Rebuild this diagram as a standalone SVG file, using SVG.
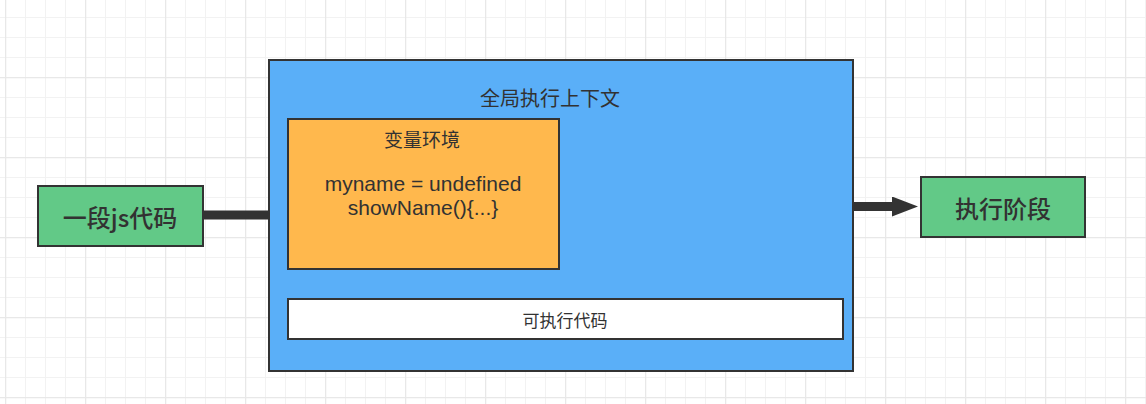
<svg xmlns="http://www.w3.org/2000/svg" width="1146" height="404" viewBox="0 0 1146 404">
  <defs>
    <pattern id="grid" patternUnits="userSpaceOnUse" x="5" y="-3" width="80" height="80">
      <rect width="80" height="80" fill="#ffffff"/>
      <path d="M20.5 0V80M40.5 0V80M60.5 0V80M0 20.5H80M0 40.5H80M0 60.5H80" stroke="#f2f2f2" stroke-width="1" fill="none"/>
      <path d="M0.5 0V80M0 0.5H80" stroke="#e8e8e8" stroke-width="1.5" fill="none"/>
    </pattern>
    <marker id="arrow" viewBox="0 0 26 20" refX="0" refY="10" markerWidth="26" markerHeight="20" markerUnits="userSpaceOnUse" orient="auto">
      <path d="M0 0L26 10L0 20Z" fill="#333333"/>
    </marker>
  </defs>
  <style>
    .box { stroke: #333333; stroke-width: 2; }
    .green { fill: #62c987; }
    .blue { fill: #5aaff8; }
    .orange { fill: #ffb84d; }
    .white { fill: #ffffff; }
    .cjk { font-family: "Noto Sans CJK SC", "Liberation Sans", sans-serif; fill: #323232; text-anchor: middle; dominant-baseline: central; }
    .code { font-family: "Liberation Sans", "Noto Sans CJK SC", sans-serif; fill: #323232; text-anchor: middle; dominant-baseline: central; font-size: 21px; }
    .conn { stroke: #333333; fill: none; }
  </style>
  <rect width="1146" height="404" fill="url(#grid)"/>

  <g id="connectors">
    <line class="conn" x1="203" y1="215" x2="269" y2="215" stroke-width="9"/>
    <line class="conn" x1="853" y1="206.5" x2="892" y2="206.5" stroke-width="9" marker-end="url(#arrow)"/>
  </g>

  <g id="node-code">
    <rect class="box green" x="38" y="186" width="165" height="60"/>
    <text class="cjk" x="120" y="216" font-size="24" font-weight="500">一段js代码</text>
  </g>

  <g id="node-global-context">
    <rect class="box blue" x="269" y="60" width="584" height="311"/>
    <text class="cjk" x="550" y="97" font-size="20">全局执行上下文</text>
  </g>

  <g id="node-variable-env">
    <rect class="box orange" x="288" y="119" width="271" height="150"/>
    <text class="cjk" x="422" y="138" font-size="19">变量环境</text>
    <text class="code" x="423" y="183">myname = undefined</text>
    <text class="code" x="423" y="207">showName(){...}</text>
  </g>

  <g id="node-executable">
    <rect class="box white" x="288" y="299" width="555" height="40"/>
    <text class="cjk" x="565" y="319" font-size="17">可执行代码</text>
  </g>

  <g id="node-exec-phase">
    <rect class="box green" x="921" y="177" width="164" height="60"/>
    <text class="cjk" x="1003" y="207" font-size="24" font-weight="500">执行阶段</text>
  </g>
</svg>
